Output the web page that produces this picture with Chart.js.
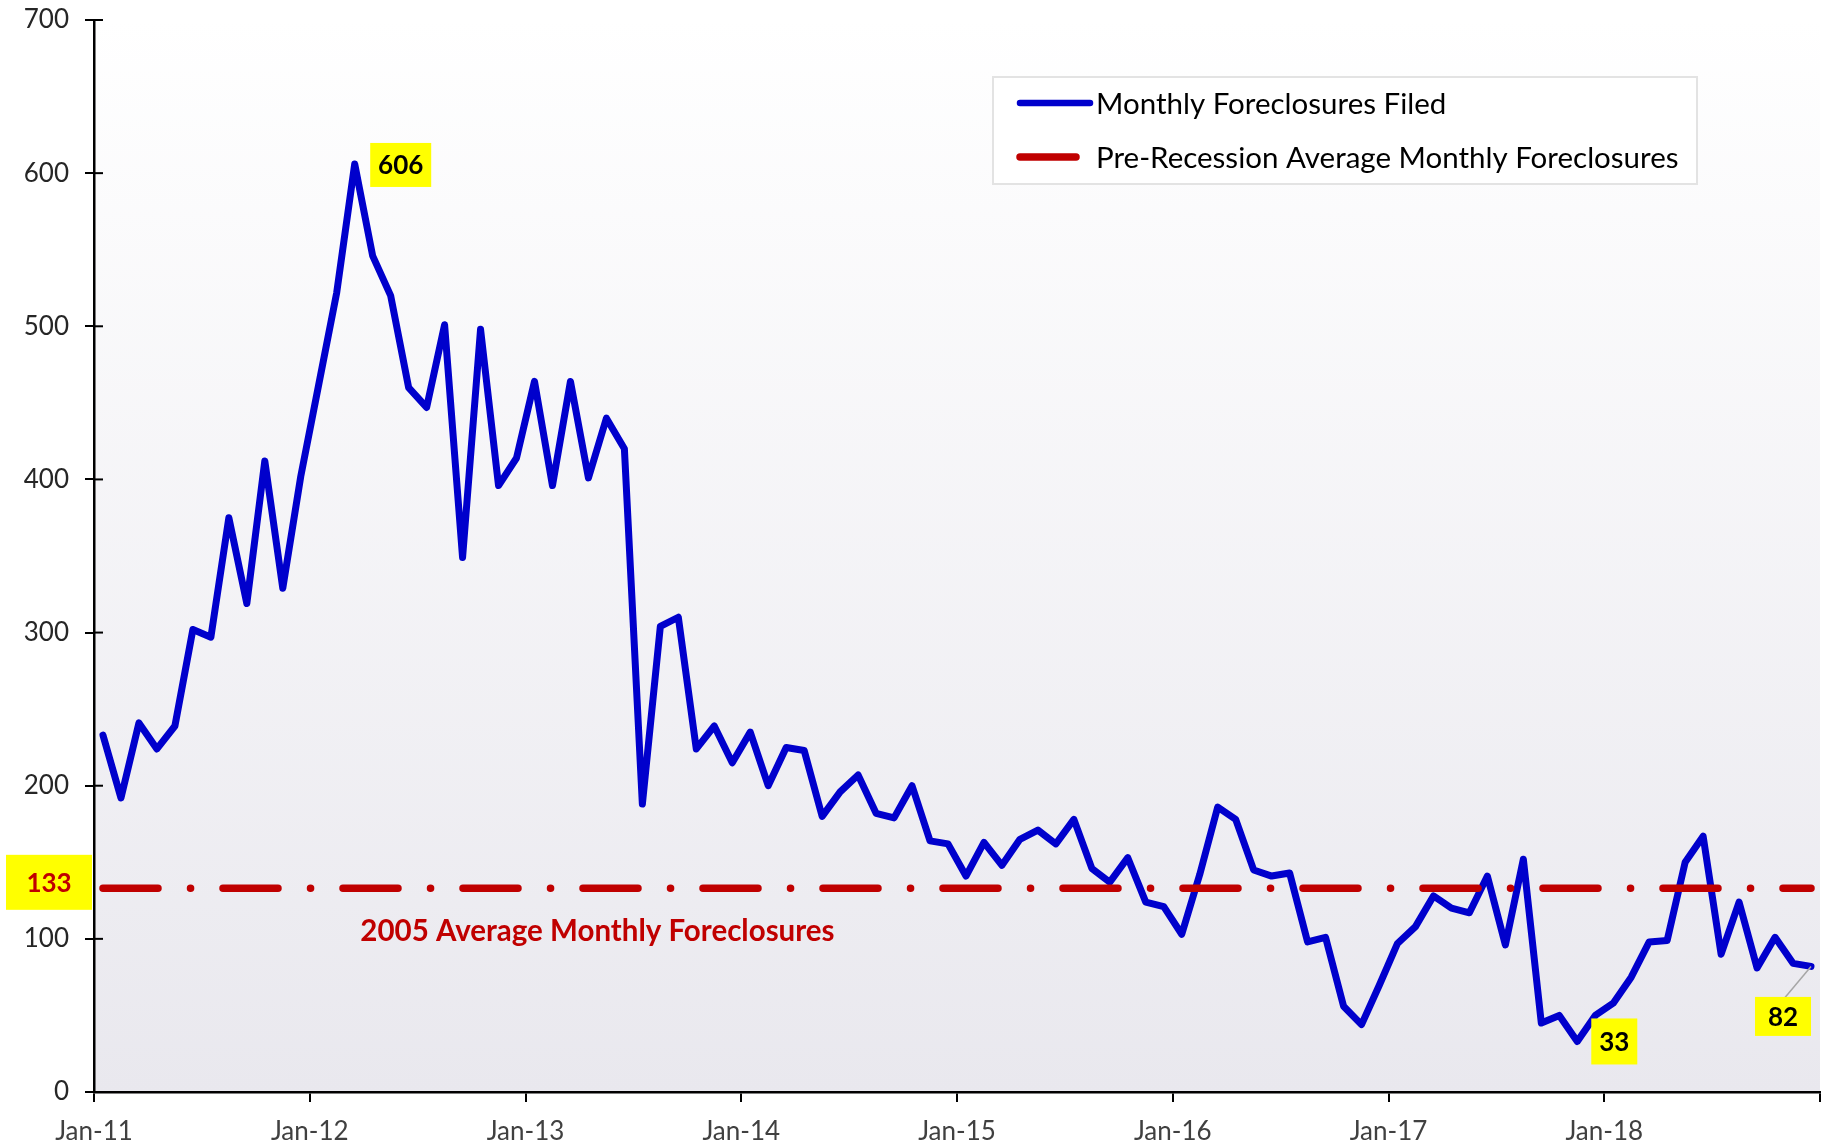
<!DOCTYPE html>
<html>
<head>
<meta charset="utf-8">
<script src="https://cdn.jsdelivr.net/npm/chart.js@4.4.1/dist/chart.umd.min.js"></script>
<style>
  html, body { margin: 0; padding: 0; background: #ffffff; }
  canvas { display: block; }
</style>
</head>
<body>
<canvas id="chart" width="1834" height="1144"></canvas>
<script>
// monthly data Jan-11 .. Dec-18
const years = ["11", "12", "13", "14", "15", "16", "17", "18"];
const monthNames = ["Jan", "Feb", "Mar", "Apr", "May", "Jun", "Jul", "Aug", "Sep", "Oct", "Nov", "Dec"];
const months = [];
years.forEach(y => monthNames.forEach(m => months.push(m + "-" + y)));

const foreclosures = [
  233, 192, 241, 224, 239, 302, 297, 375, 319, 412, 329, 402,
  462, 522, 606, 546, 520, 460, 447, 501, 349, 498, 396, 414,
  464, 396, 464, 401, 440, 420, 188, 304, 310, 224, 239, 215,
  235, 200, 225, 223, 180, 196, 207, 182, 179, 200, 164, 162,
  141, 163, 148, 165, 171, 162, 178, 146, 137, 153, 124, 121,
  103, 142, 186, 178, 145, 141, 143, 98, 101, 56, 44, 70,
  97, 108, 128, 120, 117, 141, 96, 152, 45, 50, 33, 50,
  58, 75, 98, 99, 150, 167, 90, 124, 81, 101, 84, 82
];
const preRecessionAvg = 133;
const yearTicks = ["Jan-11", "Jan-12", "Jan-13", "Jan-14", "Jan-15", "Jan-16", "Jan-17", "Jan-18", ""];

const FONT = "Lato, 'Open Sans', sans-serif";
const BLUE = "#0000cc";
const RED = "#c00000";

// points sit in the middle of each month
const bluePoints = foreclosures.map((v, i) => ({ x: i + 0.5, y: v }));
const redPoints = months.map((m, i) => ({ x: i + 0.5, y: preRecessionAvg }));

// plot area gradient
const bgPlugin = {
  id: "bg",
  beforeDraw(chart) {
    const { ctx, chartArea: a } = chart;
    const g = ctx.createLinearGradient(0, a.top, 0, a.bottom);
    g.addColorStop(0, "#ffffff");
    g.addColorStop(1, "#e9e8ee");
    ctx.save();
    ctx.fillStyle = g;
    ctx.fillRect(a.left, a.top, a.right - a.left, a.bottom - a.top);
    ctx.restore();
  }
};

function yellowBox(ctx, text, cx, cy, w, h, color) {
  ctx.fillStyle = "#ffff00";
  ctx.fillRect(cx - w / 2, cy - h / 2, w, h);
  ctx.fillStyle = color;
  ctx.font = "bold 26px " + FONT;
  ctx.textAlign = "center";
  ctx.textBaseline = "middle";
  ctx.fillText(text, cx, cy + 1);
}

// labels, inner tick marks and legend
const notesPlugin = {
  id: "notes",
  afterDraw(chart) {
    const { ctx, chartArea: a } = chart;
    const xs = chart.scales.x, ys = chart.scales.y;
    ctx.save();

    // y ticks cross the axis
    ctx.strokeStyle = "#000";
    ctx.lineWidth = 2;
    ys.ticks.forEach(t => {
      const py = ys.getPixelForValue(t.value);
      ctx.beginPath();
      ctx.moveTo(a.left, py);
      ctx.lineTo(a.left + 9, py);
      ctx.stroke();
    });

    // peak
    const maxV = Math.max(...foreclosures);
    const iMax = foreclosures.indexOf(maxV);
    let px = xs.getPixelForValue(iMax + 0.5), py = ys.getPixelForValue(maxV);
    yellowBox(ctx, String(maxV), px + 46, py + 1, 61, 44, "#000");

    // low
    const minV = Math.min(...foreclosures);
    const iMin = foreclosures.indexOf(minV);
    px = xs.getPixelForValue(iMin + 0.5); py = ys.getPixelForValue(minV);
    yellowBox(ctx, String(minV), px + 37, py, 46, 46, "#000");

    // last value with leader line
    const iLast = foreclosures.length - 1;
    const lastV = foreclosures[iLast];
    px = xs.getPixelForValue(iLast + 0.5); py = ys.getPixelForValue(lastV);
    ctx.strokeStyle = "#a6a6a6";
    ctx.lineWidth = 1.5;
    ctx.beginPath();
    ctx.moveTo(px, py);
    ctx.lineTo(px - 26, py + 31);
    ctx.stroke();
    yellowBox(ctx, String(lastV), px - 28, py + 50, 56, 39, "#000");

    // average line labels
    py = ys.getPixelForValue(preRecessionAvg);
    yellowBox(ctx, String(preRecessionAvg), a.left - 45, py - 6, 86, 55, RED);
    ctx.fillStyle = RED;
    ctx.font = "bold 29.5px " + FONT;
    ctx.textAlign = "center";
    ctx.textBaseline = "middle";
    ctx.fillText("2005 Average Monthly Foreclosures", xs.getPixelForValue(28), py + 43);

    // legend
    ctx.fillStyle = "#ffffff";
    ctx.fillRect(993, 77, 704, 107);
    ctx.strokeStyle = "#e3e3e3";
    ctx.lineWidth = 2;
    ctx.strokeRect(993, 77, 704, 107);
    ctx.lineCap = "round";
    ctx.strokeStyle = BLUE;
    ctx.lineWidth = 6.5;
    ctx.beginPath(); ctx.moveTo(1020, 103); ctx.lineTo(1090, 103); ctx.stroke();
    ctx.strokeStyle = RED;
    ctx.lineWidth = 7.5;
    ctx.beginPath(); ctx.moveTo(1020, 157); ctx.lineTo(1076, 157); ctx.stroke();
    ctx.fillStyle = "#000";
    ctx.font = "29.5px " + FONT;
    ctx.textAlign = "left";
    ctx.fillText("Monthly Foreclosures Filed", 1096, 104);
    ctx.fillText("Pre-Recession Average Monthly Foreclosures", 1096, 158);

    ctx.restore();
  }
};

new Chart(document.getElementById("chart"), {
  type: "line",
  data: {
    datasets: [
      {
        label: "Monthly Foreclosures Filed",
        data: bluePoints,
        borderColor: BLUE,
        borderWidth: 7,
        borderJoinStyle: "round",
        borderCapStyle: "round",
        pointRadius: 0,
        tension: 0,
        order: 2
      },
      {
        label: "Pre-Recession Average Monthly Foreclosures",
        data: redPoints,
        borderColor: RED,
        borderWidth: 7.5,
        borderCapStyle: "round",
        borderDash: [55, 32.5, 0.1, 32.4],
        pointRadius: 0,
        order: 1
      }
    ]
  },
  options: {
    responsive: false,
    animation: false,
    layout: { padding: { top: 20, right: 12, left: 0, bottom: 0 } },
    plugins: {
      legend: { display: false },
      tooltip: { enabled: false }
    },
    scales: {
      x: {
        type: "linear",
        min: 0,
        max: 96,
        afterFit: s => { s.height = 52; },
        afterBuildTicks: s => { s.ticks = yearTicks.map((t, i) => ({ value: i * 12 })); },
        ticks: {
          autoSkip: false,
          maxRotation: 0,
          padding: 14,
          color: "#404040",
          font: { family: FONT, size: 26 },
          callback: (v) => yearTicks[Math.round(v / 12)]
        },
        grid: { drawOnChartArea: false, tickLength: 10, color: "#000", lineWidth: 2 },
        border: { color: "#000", width: 2.5 }
      },
      y: {
        min: 0,
        max: 700,
        afterFit: s => { s.width = 94; s.paddingTop = 0; s.paddingBottom = 0; },
        ticks: {
          stepSize: 100,
          padding: 16,
          color: "#262626",
          font: { family: FONT, size: 26 }
        },
        grid: { drawOnChartArea: false, tickLength: 9, color: "#000", lineWidth: 2 },
        border: { color: "#000", width: 2.5 }
      }
    }
  },
  plugins: [bgPlugin, notesPlugin]
});
</script>
</body>
</html>
